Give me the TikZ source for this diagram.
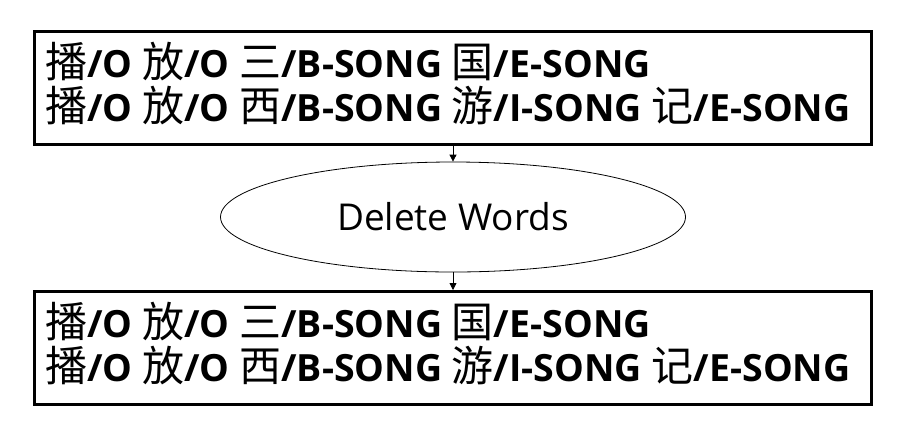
\documentclass[tikz,border=0pt]{standalone}
\usepackage{fontspec}
\setmainfont{Open Sans}
\newfontfamily\cjk{Noto Sans CJK SC}
\usetikzlibrary{shapes.geometric,arrows.meta}
\newcommand{\cj}[1]{{\cjk\mdseries\fontsize{42}{42}\selectfont #1}}
\begin{document}
\begin{tikzpicture}[x=1pt,y=-1pt,
  tagbox/.style={draw,line width=2.6pt,minimum width=837pt,minimum height=113pt,anchor=north west,inner sep=0pt},
  tagtext/.style={anchor=base west,font=\fontsize{37.5}{40}\selectfont\bfseries,inner sep=0pt},
  op/.style={draw,ellipse,line width=0.8pt,minimum width=465pt,minimum height=110pt,font=\fontsize{37}{40}\selectfont},
  arr/.style={line width=0.8pt,-{Triangle[length=7pt,width=7pt]}}]
\useasboundingbox (0,0) rectangle (902,432);
\node[tagbox] (top) at (33,30) {};
\node[tagtext] (topa) at (45,77) {\cj{播}/O \cj{放}/O \cj{三}/B-SONG \cj{国}/E-SONG};
\node[tagtext] (topb) at (45,121) {\cj{播}/O \cj{放}/O \cj{西}/B-SONG \cj{游}/I-SONG \cj{记}/E-SONG};
\node[op] (del) at (453,217) {Delete Words};
\node[tagbox] (bot) at (33,290) {};
\node[tagtext] (bota) at (45,337) {\cj{播}/O \cj{放}/O \cj{三}/B-SONG \cj{国}/E-SONG};
\node[tagtext] (botb) at (45,381) {\cj{播}/O \cj{放}/O \cj{西}/B-SONG \cj{游}/I-SONG \cj{记}/E-SONG};
\draw[arr] (top.south -| del.north) -- (del.north);
\draw[arr] (del.south) -- (bot.north -| del.south);
\end{tikzpicture}
\end{document}
